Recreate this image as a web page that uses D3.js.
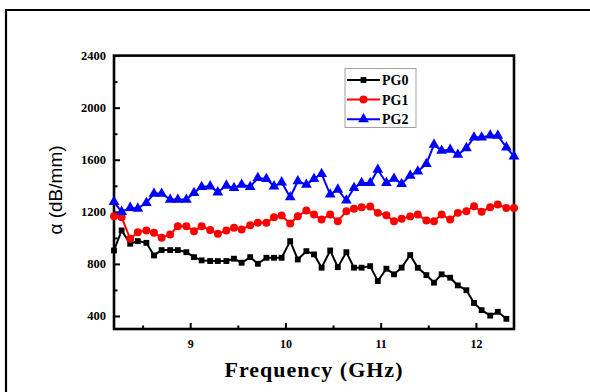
<!DOCTYPE html>
<html>
<head>
<meta charset="utf-8">
<script src="https://cdn.jsdelivr.net/npm/d3@7"></script>
<style>
  body { margin: 0; background: #fff; }
  svg { display: block; }
</style>
</head>
<body>
<svg width="590" height="392"></svg>
<script>
var freq = [8.20, 8.28, 8.37, 8.45, 8.54, 8.62, 8.70, 8.79, 8.87, 8.96,
  9.04, 9.12, 9.21, 9.29, 9.38, 9.46, 9.54, 9.63, 9.71, 9.80,
  9.88, 9.96, 10.05, 10.13, 10.22, 10.30, 10.38, 10.47, 10.55, 10.64,
  10.72, 10.80, 10.89, 10.97, 11.06, 11.14, 11.22, 11.31, 11.39, 11.48,
  11.56, 11.64, 11.73, 11.81, 11.90, 11.98, 12.06, 12.15, 12.23, 12.32, 12.40];

var pg0 = [903, 1057, 955, 975, 962, 865, 906, 906, 906, 890,
  852, 827, 822, 822, 822, 840, 809, 852, 801, 847,
  847, 847, 975, 834, 898, 873, 771, 903, 775, 890,
  771, 771, 783, 668, 763, 720, 771, 868, 770, 714,
  656, 720, 694, 635, 598, 500, 445, 403, 432, 378];

var pg1 = [1166, 1159, 993, 1044, 1057, 1039, 1001, 1026, 1090, 1090,
  1051, 1090, 1060, 1031, 1057, 1077, 1064, 1097, 1116, 1116,
  1159, 1172, 1110, 1166, 1210, 1179, 1141, 1179, 1128, 1205,
  1223, 1235, 1241, 1192, 1174, 1128, 1146, 1165, 1179, 1133,
  1128, 1179, 1141, 1192, 1205, 1243, 1200, 1235, 1256, 1230, 1230];

var pg2 = [1277, 1200, 1231, 1225, 1269, 1340, 1340, 1294, 1294, 1294,
  1345, 1392, 1396, 1350, 1402, 1384, 1409, 1392, 1460, 1453,
  1396, 1427, 1312, 1435, 1409, 1453, 1491, 1333, 1371, 1287,
  1384, 1422, 1422, 1524, 1422, 1455, 1415, 1478, 1511, 1568,
  1716, 1670, 1678, 1639, 1690, 1772, 1772, 1787, 1785, 1695, 1626];

var seriesNames = ["PG0", "PG1", "PG2"];
var xTicks = [9, 10, 11, 12];
var xMinor = [8.5, 9.5, 10.5, 11.5];
var yTicks = [400, 800, 1200, 1600, 2000, 2400];
var yMinor = [600, 1000, 1400, 1800, 2200];

var svg = d3.select("svg");
var plotLeft = 114, plotRight = 514, plotTop = 55.6, plotBottom = 329;

// outer frame
svg.append("path")
  .attr("d", "M6,400 L6,10 L600,10")
  .attr("fill", "none")
  .attr("stroke", "#000")
  .attr("stroke-width", 2.2);

var xScale = d3.scaleLinear().domain([8.2, 12.4]).range([plotLeft, plotRight]);
var yScale = d3.scaleLinear().domain([300, 2400]).range([plotBottom, plotTop]);

// ticks (inside)
var g = svg.append("g");
g.append("g")
  .attr("transform", "translate(0," + plotBottom + ")")
  .call(d3.axisBottom(xScale).tickValues(xTicks).tickSize(-6).tickPadding(10).tickFormat(d3.format("d")))
  .call(function (a) {
    a.select(".domain").remove();
    a.selectAll("line").attr("stroke-width", 2);
    a.selectAll("text")
      .style("font-family", "Liberation Serif")
      .style("font-weight", "bold")
      .style("font-size", "12px");
  });
g.append("g")
  .attr("transform", "translate(0," + plotBottom + ")")
  .call(d3.axisBottom(xScale).tickValues(xMinor).tickSize(-3.5).tickFormat(""))
  .call(function (a) {
    a.select(".domain").remove();
    a.selectAll("line").attr("stroke-width", 2);
  });
g.append("g")
  .attr("transform", "translate(" + plotLeft + ",0)")
  .call(d3.axisLeft(yScale).tickValues(yTicks).tickSize(-6).tickPadding(8).tickFormat(d3.format("d")))
  .call(function (a) {
    a.select(".domain").remove();
    a.selectAll("line").attr("stroke-width", 2);
    a.selectAll("text")
      .style("font-family", "Liberation Serif")
      .style("font-weight", "bold")
      .style("font-size", "12.5px");
  });
g.append("g")
  .attr("transform", "translate(" + plotLeft + ",0)")
  .call(d3.axisLeft(yScale).tickValues(yMinor).tickSize(-3.5).tickFormat(""))
  .call(function (a) {
    a.select(".domain").remove();
    a.selectAll("line").attr("stroke-width", 2);
  });

// plot frame
svg.append("rect")
  .attr("x", plotLeft).attr("y", plotTop)
  .attr("width", plotRight - plotLeft).attr("height", plotBottom - plotTop)
  .attr("fill", "none")
  .attr("stroke", "#000")
  .attr("stroke-width", 2.6);

// series
var sym = [d3.symbolSquare, d3.symbolCircle, d3.symbolTriangle];
var symSize = [34, 50, 50];
var colors = ["#000000", "#ff0000", "#0000ff"];
var allData = [pg0, pg1, pg2];

var line = d3.line()
  .x(function (d) { return xScale(d[0]); })
  .y(function (d) { return yScale(d[1]); });

for (var s = 0; s < allData.length; s++) {
  var pts = [];
  for (var i = 0; i < allData[s].length; i++) {
    pts.push([freq[i], allData[s][i]]);
  }
  svg.append("path")
    .datum(pts)
    .attr("d", line)
    .attr("fill", "none")
    .attr("stroke", colors[s])
    .attr("stroke-width", 2);
  svg.append("g")
    .selectAll("path")
    .data(pts)
    .enter()
    .append("path")
    .attr("d", d3.symbol().type(sym[s]).size(symSize[s]))
    .attr("transform", function (d) {
      return "translate(" + xScale(d[0]) + "," + yScale(d[1]) + ")";
    })
    .attr("fill", colors[s]);
}

// legend
var lg = svg.append("g");
lg.append("rect")
  .attr("x", 345).attr("y", 68.5)
  .attr("width", 71).attr("height", 59)
  .attr("fill", "#fff")
  .attr("stroke", "#a0a0a0")
  .attr("stroke-width", 1);
for (var s = 0; s < seriesNames.length; s++) {
  var ly = 80 + s * 19.6;
  lg.append("line")
    .attr("x1", 347).attr("x2", 380)
    .attr("y1", ly).attr("y2", ly)
    .attr("stroke", colors[s])
    .attr("stroke-width", 2);
  lg.append("path")
    .attr("d", d3.symbol().type(sym[s]).size(symSize[s]))
    .attr("transform", "translate(363.5," + ly + ")")
    .attr("fill", colors[s]);
  lg.append("text")
    .attr("x", 382)
    .attr("y", ly + 5)
    .style("font-family", "Liberation Serif")
    .style("font-weight", "bold")
    .style("font-size", "14px")
    .text(seriesNames[s]);
}

// axis titles
svg.append("text")
  .attr("x", (plotLeft + plotRight) / 2)
  .attr("y", 377)
  .attr("text-anchor", "middle")
  .style("font-family", "Liberation Serif")
  .style("font-weight", "bold")
  .style("font-size", "22px")
  .style("letter-spacing", "1px")
  .text("Frequency (GHz)");

svg.append("text")
  .attr("text-anchor", "middle")
  .attr("transform", "translate(62," + 190 + ")rotate(-90)")
  .style("font-family", "Liberation Sans")
  .style("font-size", "19px")
  .text("α (dB/mm)");
</script>
</body>
</html>
